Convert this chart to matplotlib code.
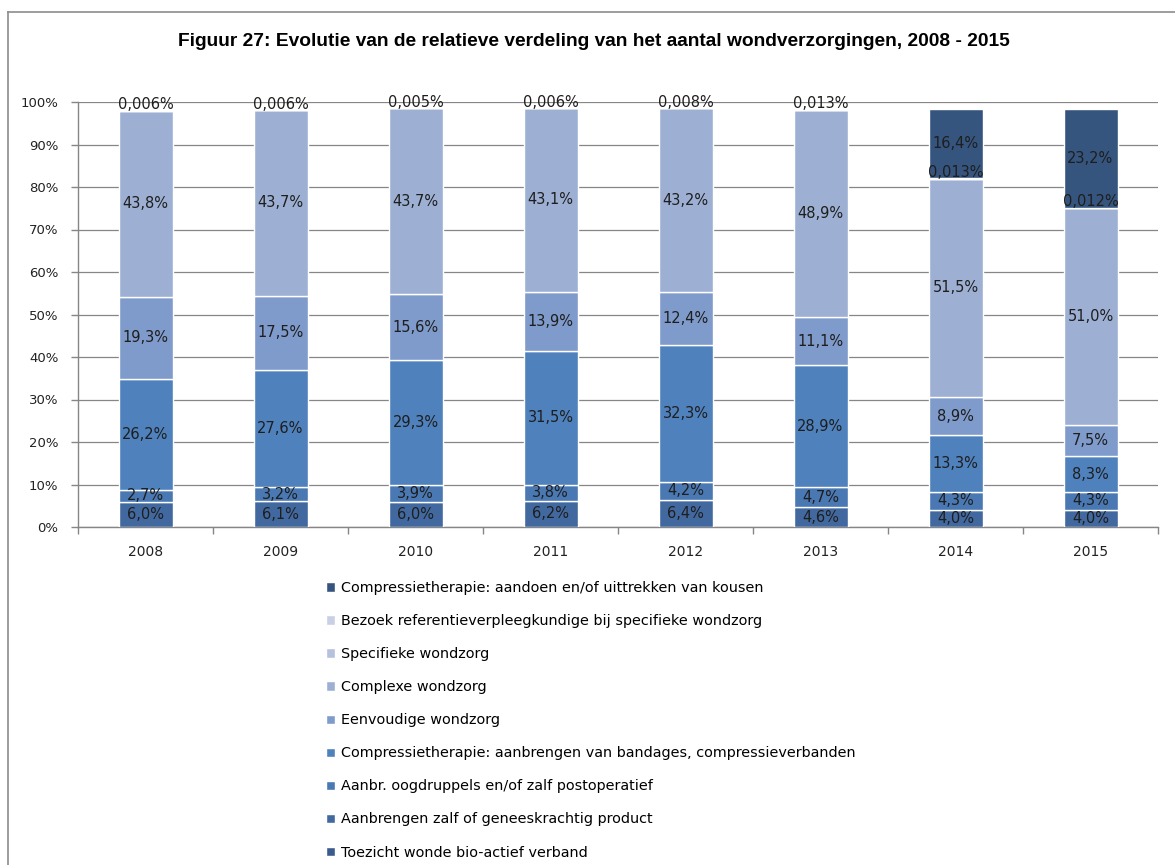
import matplotlib
matplotlib.use("Agg")
import matplotlib.pyplot as plt
from matplotlib.lines import Line2D
import numpy as np

years = ["2008", "2009", "2010", "2011", "2012", "2013", "2014", "2015"]

# Series, listed from the bottom of the stack to the top (percentages)
toezicht_bioactief = [0, 0, 0, 0, 0, 0, 0, 0]
zalf_product = [6.0, 6.1, 6.0, 6.2, 6.4, 4.6, 4.0, 4.0]
oogdruppels = [2.7, 3.2, 3.9, 3.8, 4.2, 4.7, 4.3, 4.3]
compressie_bandages = [26.2, 27.6, 29.3, 31.5, 32.3, 28.9, 13.3, 8.3]
eenvoudige = [19.3, 17.5, 15.6, 13.9, 12.4, 11.1, 8.9, 7.5]
complexe = [43.8, 43.7, 43.7, 43.1, 43.2, 48.9, 51.5, 51.0]
specifieke = [0, 0, 0, 0, 0, 0, 0, 0]
bezoek_referentie = [0.006, 0.006, 0.005, 0.006, 0.008, 0.013, 0.013, 0.012]
compressie_kousen = [0, 0, 0, 0, 0, 0, 16.4, 23.2]

series_names = [
    "Toezicht wonde bio-actief verband",
    "Aanbrengen zalf of geneeskrachtig product",
    "Aanbr. oogdruppels en/of zalf postoperatief",
    "Compressietherapie: aanbrengen van bandages, compressieverbanden",
    "Eenvoudige wondzorg",
    "Complexe wondzorg",
    "Specifieke wondzorg",
    "Bezoek referentieverpleegkundige bij specifieke wondzorg",
    "Compressietherapie: aandoen en/of uittrekken van kousen",
]
series_values = [
    toezicht_bioactief, zalf_product, oogdruppels, compressie_bandages,
    eenvoudige, complexe, specifieke, bezoek_referentie, compressie_kousen,
]
series_colors = [
    "#3a5b8e", "#42699f", "#4a78b3", "#4f81bd",
    "#7f9bcb", "#9db0d4", "#b6c1de", "#c9d0e4", "#35557f",
]

ytick_values = [0, 10, 20, 30, 40, 50, 60, 70, 80, 90, 100]
ytick_labels = [f"{v}%" for v in ytick_values]

title = "Figuur 27: Evolutie van de relatieve verdeling van het aantal wondverzorgingen, 2008 - 2015"

W, H = 1175, 865
fig = plt.figure(figsize=(W / 100, H / 100), dpi=100)
fig.patch.set_facecolor("white")

# outer chart frame
fig.add_artist(Line2D([8 / W, 8 / W], [0, 1 - 12 / H], transform=fig.transFigure,
                      color="#8c8c8c", lw=1.2))
fig.add_artist(Line2D([8 / W, 1], [1 - 12 / H, 1 - 12 / H], transform=fig.transFigure,
                      color="#8c8c8c", lw=1.2))

ax = fig.add_axes([78 / W, 1 - 527 / H, (1158 - 78) / W, (527 - 102) / H])

x = np.arange(len(years))
bar_w = 0.4
bottom = np.zeros(len(years))
containers = []
label_color = "#1e1e1e"
for name, vals, col in zip(series_names, series_values, series_colors):
    vals = np.array(vals, dtype=float)
    bc = ax.bar(x, vals, bar_w, bottom=bottom, color=col, edgecolor="white",
                linewidth=1.0, label=name, zorder=3)
    containers.append(bc)
    for i, v in enumerate(vals):
        if v <= 0:
            continue
        if v < 0.1:
            txt = f"{v:.3f}%".replace(".", ",")
            ypos = bottom[i] + v + 1.4
        else:
            txt = f"{v:.1f}%".replace(".", ",")
            ypos = bottom[i] + v / 2
        ax.text(x[i], ypos, txt, ha="center", va="center", fontsize=10.5,
                color=label_color, zorder=5, family="DejaVu Sans")
    bottom = bottom + vals

ax.set_xlim(-0.5, len(years) - 0.5)
ax.set_ylim(0, 100)

ax.set_yticks(ytick_values)
ax.set_yticklabels(ytick_labels, fontsize=9.5, color="#222222")
ax.set_xticks(x)
ax.set_xticklabels(years, fontsize=10, color="#222222")
ax.set_xticks(np.arange(-0.5, len(years), 1.0), minor=True)
ax.tick_params(axis="x", which="major", length=0, pad=13)
ax.tick_params(axis="x", which="minor", length=5, color="#868686", width=1)
ax.tick_params(axis="y", length=5, color="#868686", width=1, pad=9)

ax.grid(axis="y", color="#868686", linewidth=0.9, zorder=0)
ax.set_axisbelow(True)
for s in ["top", "right"]:
    ax.spines[s].set_visible(False)
for s in ["left", "bottom"]:
    ax.spines[s].set_color("#868686")
    ax.spines[s].set_linewidth(1.0)

fig.text(594 / W, 1 - 42 / H, title, ha="center", va="center", fontsize=13.8,
         fontweight="bold", family=["Liberation Sans", "DejaVu Sans"])

handles = containers[::-1]
labels = series_names[::-1]
fig.legend(handles, labels, loc="upper left",
           bbox_to_anchor=(326 / W, 1 - 581 / H), frameon=False, fontsize=10.4,
           borderpad=0, borderaxespad=0, handlelength=0.62, handleheight=0.62,
           handletextpad=0.45, labelspacing=1.32)

fig.savefig("out.png", dpi=100, facecolor="white")
